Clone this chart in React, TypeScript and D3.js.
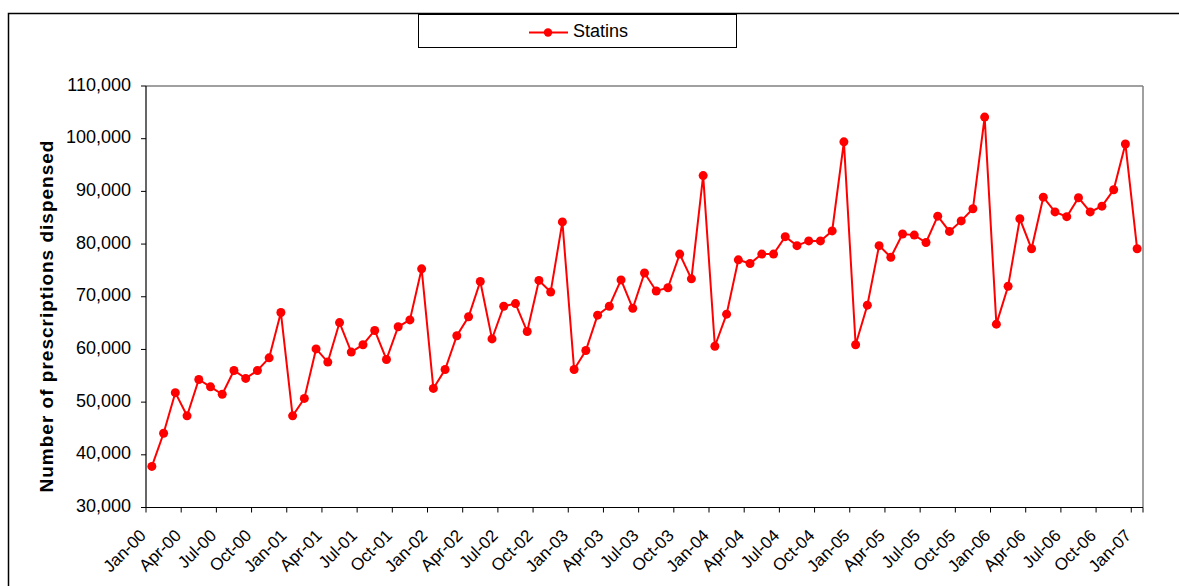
import React from "react";
import * as d3 from "d3";

const months = ["Jan", "Feb", "Mar", "Apr", "May", "Jun", "Jul", "Aug", "Sep", "Oct", "Nov", "Dec"];
const years = ["00", "01", "02", "03", "04", "05", "06", "07"];
const categories: string[] = [];
years.forEach((y) => months.forEach((m) => categories.push(`${m}-${y}`)));
const cats = categories.slice(0, 85);

const statins = [
  37800, 44100, 51800, 47400, 54300, 52900, 51500, 56000, 54500, 56000, 58400, 67000,
  47400, 50700, 60100, 57600, 65100, 59500, 60900, 63600, 58100, 64300, 65600, 75300,
  52600, 56200, 62600, 66200, 72900, 62000, 68200, 68700, 63400, 73100, 70900, 84200,
  56200, 59800, 66500, 68200, 73200, 67800, 74500, 71100, 71700, 78100, 73400, 93000,
  60600, 66700, 77000, 76300, 78100, 78100, 81400, 79700, 80600, 80600, 82500, 99400,
  60900, 68400, 79700, 77500, 81900, 81700, 80300, 85300, 82400, 84400, 86700, 104100,
  64800, 72000, 84800, 79100, 88900, 86100, 85200, 88800, 86100, 87200, 90300, 99000,
  79100,
];

const yTicks = [30000, 40000, 50000, 60000, 70000, 80000, 90000, 100000, 110000];
const seriesName = "Statins";
const yTitle = "Number of prescriptions dispensed";

export default function App() {
  const W = 1179, H = 586;
  const left = 146, right = 1143, top = 86, bottom = 507.5;
  const x = d3.scaleBand<string>().domain(cats).range([left, right]).padding(0);
  const y = d3.scaleLinear().domain([30000, 110000]).range([bottom, top]);
  const cx = (c: string) => (x(c) as number) + x.bandwidth() / 2;
  const line = d3
    .line<number>()
    .x((_, i) => cx(cats[i]))
    .y((d) => y(d));
  const fmt = d3.format(",");
  const font = "Liberation Sans, Arial, sans-serif";
  const labelIdx = cats.map((_, i) => i).filter((i) => i % 3 === 0);
  const tickBounds = d3.range(0, 85, 3).map((i) => x(cats[i]) as number);

  return (
    <svg width={W} height={H} style={{ position: "absolute", left: 0, top: 0 }} fontFamily={font}>
      <rect x={0} y={0} width={W} height={H} fill="#fff" />
      <rect x={8.5} y={13.5} width={1300} height={700} fill="none" stroke="#000" strokeWidth={1.5} />
      {/* legend */}
      <rect x={418.5} y={14.5} width={318} height={33} fill="#fff" stroke="#000" strokeWidth={1} />
      <line x1={529} x2={568} y1={32.5} y2={32.5} stroke="#ff0000" strokeWidth={2} />
      <circle cx={548} cy={32.5} r={4.2} fill="#ff0000" />
      <text x={573} y={37} fontSize={18} fill="#000">{seriesName}</text>
      {/* plot frame */}
      <line x1={left} x2={right} y1={top} y2={top} stroke="#808080" strokeWidth={1.5} />
      <line x1={right} x2={right} y1={top} y2={bottom} stroke="#808080" strokeWidth={1.5} />
      <line x1={left} x2={left} y1={top} y2={bottom} stroke="#000" strokeWidth={1.2} />
      <line x1={left} x2={right} y1={bottom} y2={bottom} stroke="#000" strokeWidth={1.2} />
      {yTicks.map((t) => (
        <g key={t}>
          <line x1={left - 5} x2={left} y1={y(t)} y2={y(t)} stroke="#000" strokeWidth={1} />
          <text x={131} y={y(t) + 4.5} fontSize={18} textAnchor="end" fill="#000">
            {fmt(t)}
          </text>
        </g>
      ))}
      {tickBounds.map((b, i) => (
        <line key={i} x1={b} x2={b} y1={bottom} y2={bottom + 5} stroke="#000" strokeWidth={1} />
      ))}
      <line x1={right} x2={right} y1={bottom} y2={bottom + 5} stroke="#000" strokeWidth={1} />
      {labelIdx.map((i) => (
        <text
          key={i}
          transform={`translate(${(x(cats[i]) as number) + 1},${bottom + 29}) rotate(-45)`}
          fontSize={17}
          textAnchor="end"
          fill="#000"
        >
          {cats[i]}
        </text>
      ))}
      <text
        transform={`translate(53,316) rotate(-90)`}
        fontSize={19}
        letterSpacing={1}
        fontWeight="bold"
        textAnchor="middle"
        fill="#000"
      >
        {yTitle}
      </text>
      <path d={line(statins) || ""} fill="none" stroke="#ff0000" strokeWidth={2} />
      {statins.map((v, i) => (
        <circle key={i} cx={cx(cats[i])} cy={y(v)} r={4.5} fill="#ff0000" />
      ))}
    </svg>
  );
}
